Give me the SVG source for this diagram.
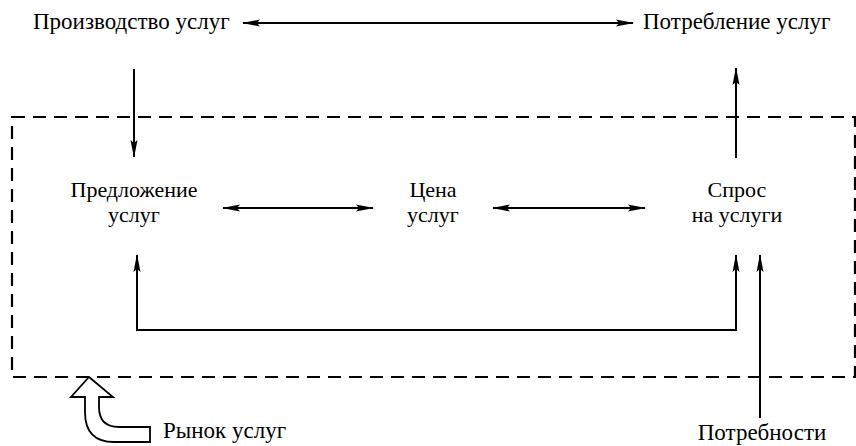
<svg xmlns="http://www.w3.org/2000/svg" width="856" height="446" viewBox="0 0 856 446">
<style>
  text { font-family: "Liberation Serif", "DejaVu Serif", serif; font-size: 23px; fill: #000; }
  .mid { text-anchor: middle; font-size: 22px; }
  .conn { fill: none; stroke: #000; stroke-width: 2; }
  .boundary { fill: none; stroke: #000; stroke-width: 2.2; stroke-dasharray: 13 8; }
  .hollow { fill: #fff; stroke: #000; stroke-width: 1.8; stroke-linejoin: miter; }
</style>
<defs>
  <marker id="ah" viewBox="0 0 18 8" refX="17" refY="4" markerWidth="18" markerHeight="8" markerUnits="userSpaceOnUse" orient="auto-start-reverse">
    <path d="M0,0.5 L18,4 L0,7.5 L3,4 Z" fill="#000"/>
  </marker>
</defs>
<rect width="856" height="446" fill="#fff"/>

<g id="market-boundary">
  <rect class="boundary" x="12" y="117" width="843" height="260"/>
</g>

<g id="production">
  <text x="33" y="29">Производство услуг</text>
</g>
<g id="consumption">
  <text x="643" y="29">Потребление услуг</text>
</g>
<g id="supply">
  <text class="mid" x="134" y="197">Предложение</text>
  <text class="mid" x="134" y="222">услуг</text>
</g>
<g id="price">
  <text class="mid" x="433" y="197">Цена</text>
  <text class="mid" x="433" y="222">услуг</text>
</g>
<g id="demand">
  <text class="mid" x="737" y="197">Спрос</text>
  <text class="mid" x="737" y="222">на услуги</text>
</g>
<g id="needs">
  <text class="mid" x="762" y="440" style="font-size:23px">Потребности</text>
</g>
<g id="market-label">
  <path class="hollow" d="M89,377 L113,397 L99,397 L99,407 Q99,427 119,427 L150,427 L150,442 L114,442 Q85,442 85,412 L85,397 L71,397 Z"/>
  <text x="163" y="438">Рынок услуг</text>
</g>

<g id="connectors">
  <line class="conn" x1="243" y1="23" x2="633" y2="23" marker-start="url(#ah)" marker-end="url(#ah)"/>
  <line class="conn" x1="134" y1="69" x2="134" y2="157" marker-end="url(#ah)"/>
  <line class="conn" x1="736" y1="158" x2="736" y2="68" marker-end="url(#ah)"/>
  <line class="conn" x1="223" y1="208" x2="373" y2="208" marker-start="url(#ah)" marker-end="url(#ah)"/>
  <line class="conn" x1="493" y1="208" x2="645" y2="208" marker-start="url(#ah)" marker-end="url(#ah)"/>
  <polyline class="conn" points="137,255 137,330 736,330 736,255" marker-start="url(#ah)" marker-end="url(#ah)"/>
  <line class="conn" x1="760" y1="418" x2="760" y2="255" marker-end="url(#ah)"/>
</g>
</svg>
